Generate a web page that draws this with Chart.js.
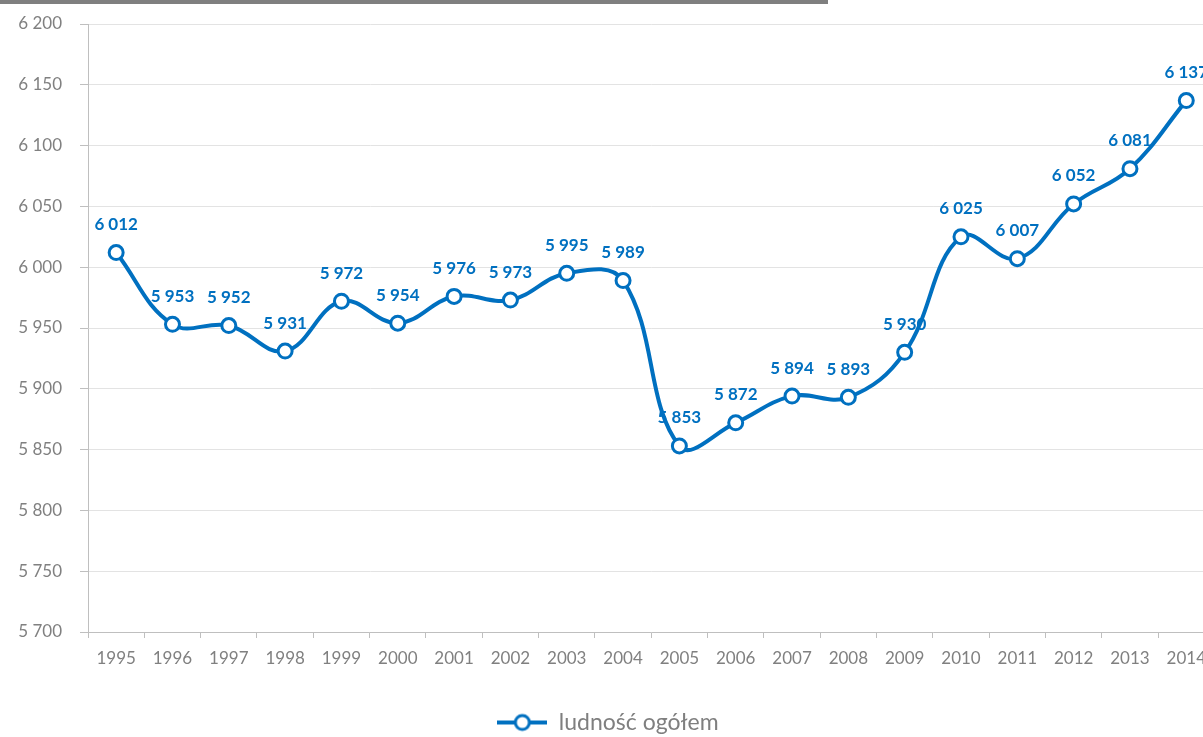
<!DOCTYPE html>
<html>
<head>
<meta charset="utf-8">
<script src="https://cdn.jsdelivr.net/npm/chart.js@4"></script>
<style>
html,body{margin:0;padding:0;background:#fff;overflow:hidden;}
#wrap{position:absolute;left:0;top:0;width:1216px;height:737px;}
#bar{position:absolute;left:0;top:0;width:828px;height:4px;background:#7f7f7f;z-index:2;}
</style>
</head>
<body>
<div id="bar"></div>
<div id="wrap"><canvas id="c"></canvas></div>
<script>
const years = ['1995','1996','1997','1998','1999','2000','2001','2002','2003','2004','2005','2006','2007','2008','2009','2010','2011','2012','2013','2014'];
const population = [6012,5953,5952,5931,5972,5954,5976,5973,5995,5989,5853,5872,5894,5893,5930,6025,6007,6052,6081,6137];
const seriesName = 'ludność ogółem';
const yMin = 5700, yMax = 6200, yStep = 50;

const BLUE = '#0070C0';
function fmt(v){ return String(v).replace(/\B(?=(\d{3})+(?!\d))/g, ' '); }

// legend marker
const mk = document.createElement('canvas');
mk.width = 50; mk.height = 20;
(function(){
  const g = mk.getContext('2d');
  g.strokeStyle = BLUE; g.lineWidth = 4;
  g.beginPath(); g.moveTo(0,10); g.lineTo(50,10); g.stroke();
  g.fillStyle = '#fff'; g.lineWidth = 3;
  g.beginPath(); g.arc(25,10,7,0,Math.PI*2); g.fill(); g.stroke();
})();

const labelPlugin = {
  id: 'valueLabels',
  afterDatasetsDraw(chart){
    const ctx = chart.ctx;
    const meta = chart.getDatasetMeta(0);
    ctx.save();
    ctx.font = 'bold 17px Lato';
    ctx.fillStyle = BLUE;
    ctx.textAlign = 'center';
    ctx.textBaseline = 'middle';
    meta.data.forEach((pt, i) => {
      ctx.fillText(fmt(population[i]), pt.x, pt.y - 28);
    });
    ctx.restore();
  }
};

new Chart(document.getElementById('c'), {
  type: 'line',
  data: {
    labels: years,
    datasets: [{
      label: seriesName,
      data: population,
      borderColor: BLUE,
      borderWidth: 4,
      backgroundColor: '#ffffff',
      pointBackgroundColor: '#ffffff',
      pointBorderColor: BLUE,
      pointBorderWidth: 3,
      pointRadius: 7,
      pointHoverRadius: 7,
      pointStyle: 'circle',
      tension: 0.4,
      fill: false,
      clip: false
    }]
  },
  options: {
    responsive: true,
    maintainAspectRatio: false,
    animation: false,
    layout: { autoPadding: false, padding: { top: 24, left: 0, right: 0, bottom: -7 } },
    plugins: {
      tooltip: { enabled: false },
      legend: {
        position: 'bottom',
        labels: {
          usePointStyle: true,
          pointStyle: mk,
          pointStyleWidth: 50,
          color: '#7f7f7f',
          font: { family: 'Lato', size: 23 },
          padding: 0,
          generateLabels(chart){
            return [{ text: seriesName, pointStyle: mk, fillStyle: '#fff', strokeStyle: BLUE, lineWidth: 0, datasetIndex: 0, fontColor: '#7f7f7f' }];
          }
        }
      }
    },
    scales: {
      x: {
        offset: true,
        grid: { offset: true, drawOnChartArea: false, drawTicks: true, tickLength: 6, tickColor: '#bfbfbf', lineWidth: 1 },
        border: { color: '#bfbfbf', width: 1 },
        ticks: { color: '#808080', font: { family: 'Lato', size: 17 }, padding: 10, maxRotation: 0, autoSkip: false },
        afterFit(scale){ scale.height = 79; }
      },
      y: {
        min: yMin, max: yMax,
        ticks: { stepSize: yStep, color: '#808080', font: { family: 'Lato', size: 17 }, padding: 18, callback: v => fmt(v) },
        grid: { color: '#e3e3e3', lineWidth: 1, tickLength: 8, tickColor: '#bfbfbf' },
        border: { color: '#bfbfbf', width: 1 },
        afterFit(scale){ scale.width = 88; scale.paddingTop = 0; scale.paddingBottom = 0; }
      }
    }
  },
  plugins: [labelPlugin]
});
</script>
</body>
</html>
